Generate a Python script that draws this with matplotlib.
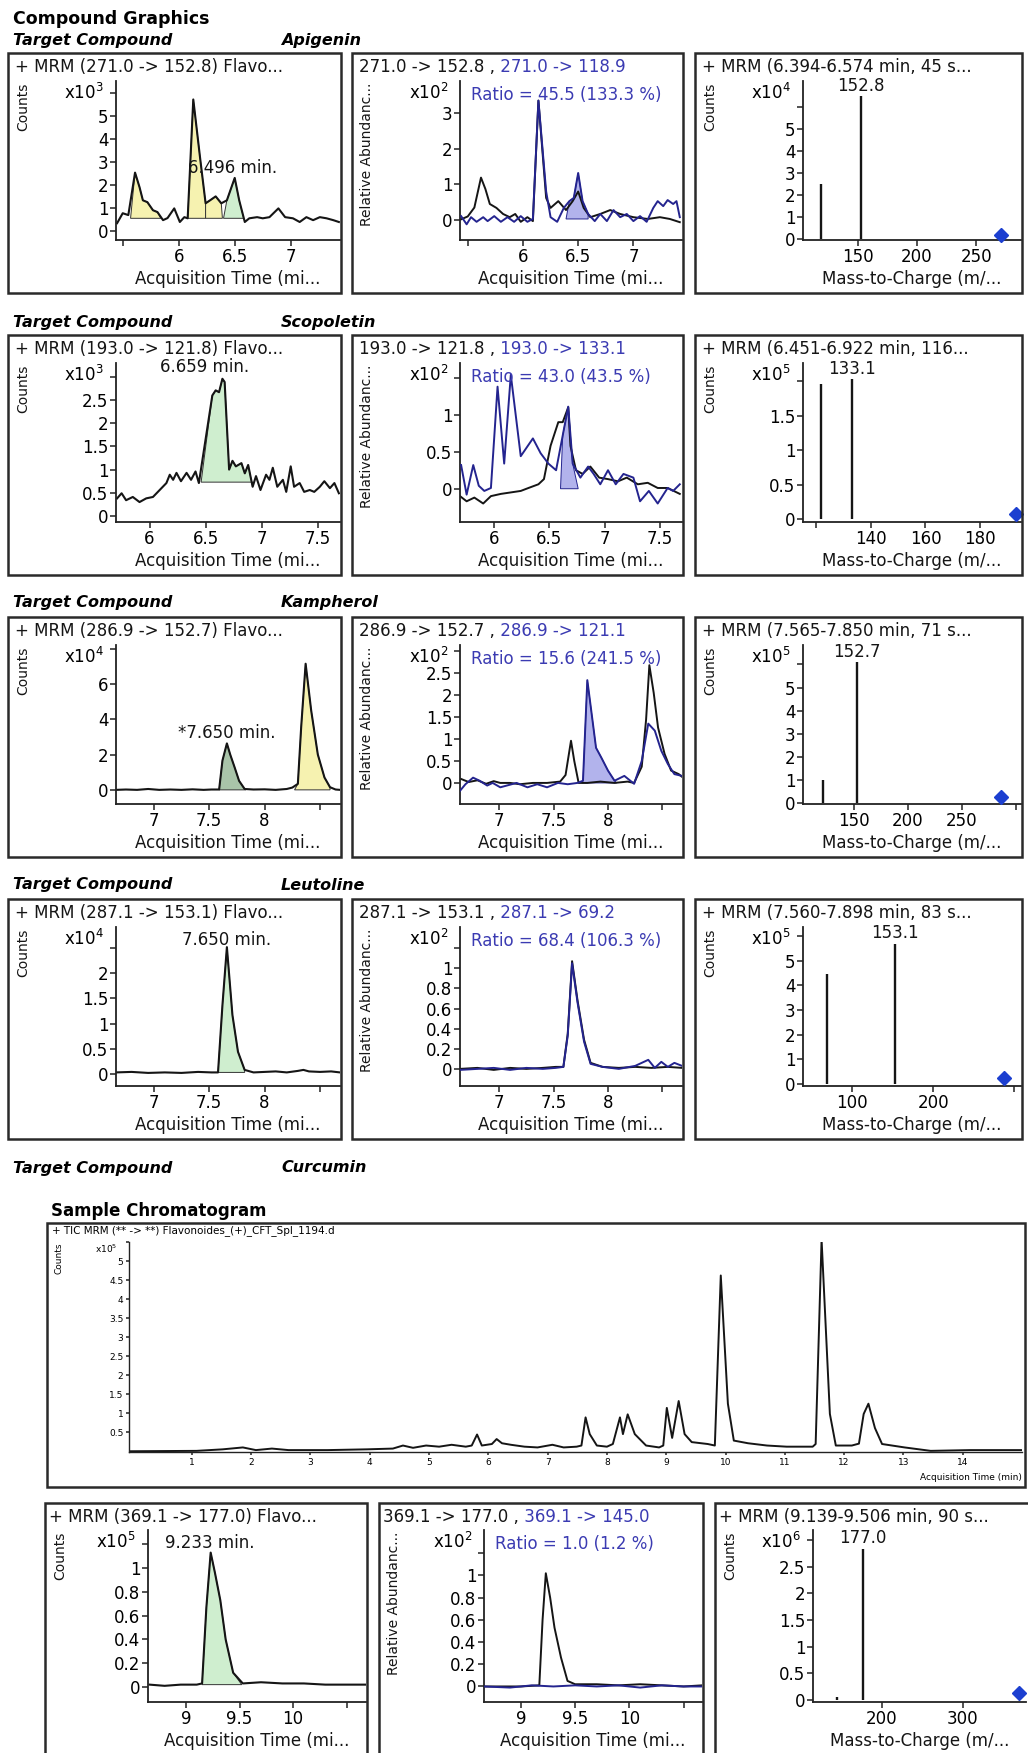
import matplotlib
matplotlib.use("Agg")
import matplotlib.pyplot as plt
from matplotlib.patches import Rectangle
from matplotlib.transforms import offset_copy
import numpy as np

# ---------------- data ----------------
NAMES = ["Apigenin", "Scopoletin", "Kampherol", "Leutoline", "Curcumin"]

# Apigenin
API_XIC_T = [5.45, 5.50, 5.55, 5.61, 5.65, 5.68, 5.72, 5.77, 5.81, 5.86, 5.90, 5.96, 6.01, 6.05, 6.08, 6.13, 6.19,
             6.24, 6.28, 6.33, 6.38, 6.43, 6.50, 6.54, 6.59, 6.63, 6.70, 6.75, 6.81, 6.89, 6.95, 7.02, 7.08, 7.14,
             7.20, 7.26, 7.32, 7.38, 7.43]
API_XIC_Y = [0.34, 0.77, 0.69, 2.53, 1.90, 1.33, 1.25, 0.90, 0.82, 0.47, 0.56, 0.98, 0.39, 0.60, 0.55, 5.70, 3.20,
             1.20, 1.33, 1.50, 1.20, 1.33, 2.30, 1.33, 0.39, 0.55, 0.60, 0.55, 0.60, 0.98, 0.60, 0.55, 0.39, 0.60,
             0.47, 0.60, 0.55, 0.47, 0.39]
API_QNT_T = [5.44, 5.50, 5.56, 5.62, 5.66, 5.70, 5.76, 5.82, 5.88, 5.93, 5.98, 6.04, 6.09, 6.14, 6.21, 6.25, 6.32,
             6.39, 6.45, 6.50, 6.55, 6.61, 6.70, 6.79, 6.88, 7.00, 7.13, 7.24, 7.33, 7.42]
API_QNT_Y = [0.02, 0.10, 0.35, 1.19, 0.87, 0.45, 0.34, 0.17, 0.08, 0.17, -0.05, 0.08, -0.03, 3.35, 0.62, 0.34, 0.53,
             0.28, 0.53, 0.80, 0.34, 0.08, 0.17, 0.28, 0.17, 0.08, 0.03, 0.08, 0.03, -0.06]
API_QUL_T = [5.44, 5.49, 5.53, 5.58, 5.64, 5.68, 5.74, 5.80, 5.86, 5.92, 5.98, 6.04, 6.09, 6.14, 6.21, 6.25, 6.31,
             6.37, 6.42, 6.46, 6.50, 6.54, 6.59, 6.65, 6.70, 6.76, 6.82, 6.88, 6.94, 7.00, 7.06, 7.12, 7.18, 7.22,
             7.27, 7.31, 7.36, 7.39, 7.42]
API_QUL_Y = [0.11, -0.12, 0.08, -0.05, 0.08, -0.03, 0.11, -0.05, 0.08, -0.05, 0.11, -0.05, 0.03, 3.35, 0.80, 0.08,
             -0.05, 0.34, 0.53, 0.62, 1.32, 0.53, 0.17, -0.03, 0.17, -0.03, 0.28, 0.08, 0.17, -0.03, 0.11, -0.05,
             0.34, 0.53, 0.39, 0.56, 0.45, 0.53, 0.08]
API_MZ = [119.0, 152.8]
API_MS = [2.5, 6.5]
API_PREC = [271.0]

# Scopoletin
SCO_XIC_T = [5.71, 5.75, 5.79, 5.85, 5.91, 5.97, 6.03, 6.09, 6.15, 6.18, 6.21, 6.24, 6.28, 6.33, 6.37, 6.41, 6.44,
             6.56, 6.59, 6.62, 6.65, 6.67, 6.71, 6.74, 6.77, 6.82, 6.85, 6.88, 6.92, 6.95, 6.99, 7.04, 7.07, 7.10,
             7.14, 7.19, 7.22, 7.26, 7.29, 7.34, 7.38, 7.43, 7.47, 7.52, 7.56, 7.61, 7.65, 7.69]
SCO_XIC_Y = [0.38, 0.49, 0.34, 0.41, 0.30, 0.38, 0.41, 0.56, 0.71, 0.89, 0.78, 0.93, 0.75, 0.93, 0.78, 0.96, 0.71,
             2.60, 2.71, 2.67, 2.96, 2.89, 1.00, 1.19, 1.07, 1.14, 0.92, 1.10, 0.63, 0.86, 0.56, 0.89, 0.78, 1.04,
             0.63, 0.78, 0.52, 1.07, 0.63, 0.71, 0.52, 0.56, 0.52, 0.63, 0.75, 0.60, 0.71, 0.49]
SCO_QNT_T = [5.69, 5.75, 5.82, 5.90, 5.97, 6.06, 6.15, 6.24, 6.31, 6.40, 6.45, 6.51, 6.58, 6.62, 6.67, 6.69, 6.74,
             6.80, 6.87, 6.95, 7.03, 7.12, 7.20, 7.30, 7.39, 7.48, 7.57, 7.68]
SCO_QNT_Y = [-0.10, -0.17, -0.12, -0.20, -0.10, -0.07, -0.05, -0.03, 0.01, 0.06, 0.13, 0.58, 0.90, 0.90, 1.10, 0.58,
             0.25, 0.20, 0.30, 0.15, 0.13, 0.10, 0.15, 0.06, 0.08, 0.01, 0.01, -0.07]
SCO_QUL_T = [5.70, 5.75, 5.81, 5.86, 5.91, 5.97, 6.03, 6.09, 6.15, 6.24, 6.35, 6.42, 6.49, 6.56, 6.62, 6.67, 6.71,
             6.78, 6.85, 6.90, 6.96, 7.03, 7.10, 7.17, 7.26, 7.32, 7.40, 7.48, 7.57, 7.62, 7.68]
SCO_QUL_Y = [0.32, -0.08, 0.32, 0.04, -0.03, 0.01, 1.38, 0.34, 1.54, 0.44, 0.68, 0.48, 0.34, 0.25, 0.72, 1.11, 0.34,
             0.15, 0.30, 0.20, 0.06, 0.25, 0.06, 0.20, 0.15, -0.17, -0.03, -0.20, 0.01, -0.03, 0.06]
SCO_MZ = [121.8, 133.1]
SCO_MS = [1.96, 2.03]
SCO_PREC = [193.0]

# Kampherol
KAM_XIC_T = [6.66, 6.75, 6.85, 6.95, 7.05, 7.15, 7.25, 7.35, 7.45, 7.52, 7.59, 7.62, 7.66, 7.69, 7.73, 7.77, 7.82,
             7.90, 8.00, 8.10, 8.20, 8.25, 8.30, 8.33, 8.37, 8.42, 8.48, 8.54, 8.59, 8.64, 8.68]
KAM_XIC_Y = [0.00, 0.02, 0.00, 0.05, 0.00, 0.02, 0.00, 0.03, 0.00, 0.02, 0.02, 1.66, 2.63, 2.00, 1.27, 0.51, 0.05,
             0.02, 0.03, 0.00, 0.05, 0.13, 0.34, 3.56, 7.14, 4.50, 2.00, 0.70, 0.15, 0.02, 0.00]
KAM_QNT_T = [6.65, 6.72, 6.80, 6.88, 6.95, 7.01, 7.10, 7.19, 7.31, 7.44, 7.56, 7.61, 7.66, 7.69, 7.73, 7.81, 7.93,
             8.06, 8.18, 8.24, 8.31, 8.35, 8.38, 8.42, 8.46, 8.52, 8.58, 8.65, 8.69]
KAM_QNT_Y = [0.09, 0.02, 0.06, -0.02, 0.04, 0.00, 0.00, -0.03, 0.00, 0.00, 0.03, 0.18, 0.96, 0.50, 0.00, 0.00, 0.03,
             0.00, 0.03, 0.00, 0.37, 1.44, 2.68, 2.05, 1.26, 0.66, 0.28, 0.20, 0.12]
KAM_QUL_T = [6.64, 6.69, 6.76, 6.82, 6.89, 6.94, 7.01, 7.07, 7.16, 7.26, 7.35, 7.44, 7.54, 7.63, 7.72, 7.77, 7.81,
             7.89, 7.94, 8.00, 8.06, 8.15, 8.24, 8.31, 8.37, 8.43, 8.49, 8.55, 8.61, 8.68]
KAM_QUL_Y = [-0.18, -0.03, 0.12, 0.05, -0.06, 0.00, -0.10, -0.06, 0.00, -0.10, -0.03, -0.10, 0.00, -0.03, 0.00,
             0.05, 2.34, 0.80, 0.57, 0.28, 0.05, 0.16, -0.02, 0.50, 1.35, 1.19, 0.73, 0.43, 0.20, 0.16]
KAM_MZ = [121.1, 152.7]
KAM_MS = [0.98, 6.1]
KAM_PREC = [286.9]

# Leutoline
LEU_XIC_T = [6.66, 6.80, 6.95, 7.10, 7.25, 7.40, 7.52, 7.58, 7.62, 7.66, 7.71, 7.76, 7.82, 7.90, 8.00, 8.10, 8.20,
             8.30, 8.35, 8.40, 8.50, 8.60, 8.68]
LEU_XIC_Y = [0.03, 0.04, 0.02, 0.03, 0.02, 0.04, 0.03, 0.03, 1.37, 2.52, 1.17, 0.44, 0.08, 0.03, 0.04, 0.05, 0.03,
             0.06, 0.08, 0.05, 0.04, 0.05, 0.03]
LEU_QNT_T = [6.64, 6.80, 6.95, 7.10, 7.25, 7.40, 7.52, 7.59, 7.63, 7.67, 7.72, 7.78, 7.84, 7.95, 8.10, 8.25, 8.40,
             8.55, 8.68]
LEU_QNT_Y = [0.00, 0.01, -0.01, 0.01, 0.00, 0.01, 0.02, 0.02, 0.35, 1.07, 0.68, 0.29, 0.06, 0.02, 0.01, 0.02, 0.01,
             0.02, 0.01]
LEU_QUL_T = [6.64, 6.80, 6.95, 7.10, 7.25, 7.40, 7.52, 7.59, 7.63, 7.67, 7.72, 7.78, 7.84, 7.95, 8.10, 8.25, 8.37,
             8.43, 8.49, 8.55, 8.61, 8.68]
LEU_QUL_Y = [-0.01, 0.00, 0.01, -0.01, 0.01, 0.00, 0.01, 0.02, 0.33, 1.05, 0.66, 0.27, 0.05, 0.02, 0.00, 0.03, 0.09,
             0.01, 0.07, 0.02, 0.06, 0.03]
LEU_MZ = [69.2, 153.1]
LEU_MS = [4.44, 5.68]
LEU_PREC = [287.1]

# Curcumin
CUR_XIC_T = [8.66, 8.80, 8.95, 9.10, 9.15, 9.19, 9.23, 9.27, 9.32, 9.37, 9.44, 9.53, 9.70, 9.90, 10.10, 10.30,
             10.50, 10.68]
CUR_XIC_Y = [0.02, 0.01, 0.02, 0.02, 0.03, 0.67, 1.13, 0.96, 0.73, 0.40, 0.12, 0.03, 0.04, 0.03, 0.03, 0.02, 0.02,
             0.02]
CUR_QNT_T = [8.66, 8.80, 9.00, 9.17, 9.20, 9.23, 9.27, 9.31, 9.37, 9.43, 9.50, 9.70, 9.90, 10.10, 10.30, 10.50,
             10.67]
CUR_QNT_Y = [0.00, 0.00, 0.00, 0.01, 0.60, 1.02, 0.80, 0.53, 0.26, 0.05, 0.02, 0.02, 0.01, 0.02, 0.01, 0.00, 0.01]
CUR_QUL_T = [8.66, 8.90, 9.10, 9.30, 9.50, 9.70, 9.90, 10.10, 10.30, 10.50, 10.67]
CUR_QUL_Y = [0.00, -0.01, 0.01, 0.00, 0.01, 0.00, 0.01, -0.01, 0.01, 0.00, 0.00]
CUR_MZ = [145.0, 177.0]
CUR_MS = [0.06, 2.84]
CUR_PREC = [369.1]

# total ion chromatogram (x10^5 counts)
TIC_T = [-0.03, 1.08, 1.52, 1.86, 2.08, 2.35, 2.63, 3.29, 3.95, 4.39, 4.56, 4.73, 4.95, 5.17, 5.38, 5.62, 5.72,
         5.81, 5.89, 6.06, 6.14, 6.23, 6.38, 6.61, 6.83, 7.08, 7.27, 7.49, 7.57, 7.64, 7.71, 7.83, 8.00, 8.10, 8.22,
         8.27, 8.35, 8.47, 8.66, 8.88, 8.95, 9.01, 9.10, 9.21, 9.31, 9.43, 9.70, 9.82, 9.92, 10.04, 10.14, 10.38,
         10.70, 11.03, 11.47, 11.52, 11.62, 11.76, 11.86, 12.13, 12.25, 12.33, 12.41, 12.52, 12.64, 13.02, 13.46,
         14.12, 15.00]
TIC_Y = [0.00, 0.01, 0.05, 0.10, 0.03, 0.07, 0.03, 0.03, 0.05, 0.07, 0.15, 0.09, 0.15, 0.12, 0.17, 0.12, 0.15,
         0.44, 0.15, 0.19, 0.32, 0.21, 0.17, 0.12, 0.10, 0.17, 0.10, 0.12, 0.15, 0.89, 0.45, 0.15, 0.12, 0.19, 0.89,
         0.45, 0.97, 0.45, 0.15, 0.10, 0.15, 1.14, 0.35, 1.32, 0.45, 0.24, 0.19, 0.15, 4.62, 1.25, 0.28, 0.21,
         0.15, 0.12, 0.12, 0.19, 5.56, 0.98, 0.15, 0.15, 0.20, 0.98, 1.25, 0.61, 0.19, 0.10, 0.01, 0.03, 0.03]

# ---------------- look ----------------
W, H = 1028, 1753
INK, BOXC = "#151515", "#2a2a2a"
NAVY, BLUE_TXT, BLUE_FILL, DIAMOND = "#24248f", "#3b3bb2", "#b2b3ec", "#1c3fd0"
YELLOW, GREEN, SAGE = "#f6f2b0", "#cfeecf", "#a9c4a9"
FS, FS_V = 12, 10

plt.rcParams["font.family"] = ["DejaVu Sans"]
fig = plt.figure(figsize=(W / 100, H / 100), dpi=100)


def fx(x):
    return x / W


def fy(y):
    return 1 - y / H


def ftext(x, y, s, **kw):
    return fig.text(fx(x), fy(y), s, **kw)


def box(x0, y0, x1, y1):
    fig.add_artist(Rectangle((fx(x0), fy(y1)), (x1 - x0) / W, (y1 - y0) / H, transform=fig.transFigure,
                             fill=False, lw=1.8, ec=BOXC))


def pxoff(ax, dx, dy):
    return offset_copy(ax.transAxes, fig=fig, x=dx, y=-dy, units="dots")


def axes_px(x0, y0, x1, y1):
    ax = fig.add_axes([fx(x0), fy(y1), (x1 - x0) / W, (y1 - y0) / H])
    ax.patch.set_alpha(0)
    ax.spines[["top", "right"]].set_visible(False)
    ax.spines[["left", "bottom"]].set_linewidth(1.3)
    ax.spines[["left", "bottom"]].set_color("#222222")
    return ax


def scales(ax, xlim, xt, xl, ylim, yt, yl, fs=FS, length=4):
    ax.set_xlim(xlim)
    ax.set_ylim(ylim)
    ax.set_xticks(xt, xl)
    ax.set_yticks(yt, yl)
    ax.tick_params(direction="out", length=length, width=1.1, labelsize=fs, pad=1.5, color="#222222")


def frame(bx0, by0, bx1, by1, ar, header, ylabel, xlabel, exp, hx=7):
    box(bx0, by0, bx1, by1)
    ax = axes_px(*ar)
    h = ftext(bx0 + hx, by0 + 14, header, ha="left", va="center", fontsize=FS, color=INK)
    ftext(bx0 + 15, ar[1] + 2, ylabel, rotation=90, ha="center", va="top", fontsize=FS_V, color=INK)
    ftext((ar[0] + ar[2]) / 2, ar[3] + 39, xlabel, ha="center", va="center", fontsize=FS, color=INK)
    ax.text(0, 1, "x10$^{%d}$" % exp, transform=pxoff(ax, -12, 2), ha="right", va="top", fontsize=FS)
    return ax, h


def peak_fill(ax, t, y, t0, t1, base, color, ec="#333333"):
    t, y = np.asarray(t), np.asarray(y)
    m = (t >= t0) & (t <= t1)
    ax.fill(np.r_[t0, t[m], t1], np.r_[base, y[m], base], facecolor=color, edgecolor=ec, lw=0.7, zorder=1)


def xic(ax, t, y, fills, label, lx, ly):
    for t0, t1, base, c in fills:
        peak_fill(ax, t, y, t0, t1, base, c)
    ax.plot(t, y, color=INK, lw=1.5, zorder=2)
    ax.text(lx, ly, label, ha="center", va="center", fontsize=FS, color=INK)


def spectrum(ax, mz, ms, prec, prec_y):
    ax.vlines(mz, 0, ms, color=INK, lw=1.7)
    top = int(np.argmax(ms))
    ax.annotate(f"{mz[top]:.1f}", (mz[top], ms[top]), xytext=(0, 1), textcoords="offset points",
                ha="center", va="bottom", fontsize=FS, color=INK)
    ax.plot(prec, [prec_y], marker="D", ms=7.5, color=DIAMOND, clip_on=False, zorder=4)


# ---------------- titles ----------------
ftext(13, 19, "Compound Graphics", fontsize=12.5, fontweight="bold", va="center")
TC_Y = [41, 322, 603, 885, 1168]
for name, ty in zip(NAMES, TC_Y):
    ftext(13, ty, "Target Compound", fontsize=11.5, fontweight="bold", style="italic", va="center")
    ftext(281, ty, name, fontsize=11.5, fontweight="bold", style="italic", va="center")

# ---------------- rows 1-4 ----------------
COLS = [(8, 341), (352, 683), (695, 1022)]
TOPS = [53, 335, 617, 899]
XT_LBL = "Acquisition Time (mi..."
MZ_LBL = "Mass-to-Charge (m/..."

rows = [
    dict(hdr="+ MRM (271.0 -> 152.8) Flavo...", rhdr=("271.0 -> 152.8 ,", " 271.0 -> 118.9"),
         rtxt="Ratio = 45.5 (133.3 %)", shdr="+ MRM (6.394-6.574 min, 45 s...", exps=(3, 2, 4),
         xic=(API_XIC_T, API_XIC_Y), fills=[(5.57, 5.84, 0.55, YELLOW), (6.08, 6.24, 0.55, YELLOW),
                                          (6.24, 6.39, 0.55, YELLOW), (6.40, 6.58, 0.55, GREEN)],
         lbl=("6.496 min.", 6.48, 2.75),
         xl1=((5.44, 7.44), [5.5, 6, 6.5, 7], ["", "6", "6.5", "7"]),
         yl1=((-0.39, 6.5), [0, 1, 2, 3, 4, 5, 6], ["0", "1", "2", "3", "4", "5", ""]),
         q=(API_QNT_T, API_QNT_Y, API_QUL_T, API_QUL_Y), qfill=(6.39, 6.59, 0.03),
         xl2=((5.43, 7.44), [5.5, 6, 6.5, 7], ["", "6", "6.5", "7"]),
         yl2=((-0.56, 3.9), [0, 1, 2, 3], ["0", "1", "2", "3"]),
         ms=(API_MZ, API_MS, API_PREC, 0.2),
         xl3=((104, 287.5), [150, 200, 250], ["150", "200", "250"]),
         yl3=((-0.05, 7.2), [0, 1, 2, 3, 4, 5, 6], ["0", "1", "2", "3", "4", "5", ""])),
    dict(hdr="+ MRM (193.0 -> 121.8) Flavo...", rhdr=("193.0 -> 121.8 ,", " 193.0 -> 133.1"),
         rtxt="Ratio = 43.0 (43.5 %)", shdr="+ MRM (6.451-6.922 min, 116...", exps=(3, 2, 5),
         xic=(SCO_XIC_T, SCO_XIC_Y), fills=[(6.46, 6.92, 0.73, GREEN)],
         lbl=("6.659 min.", 6.49, 3.22),
         xl1=((5.7, 7.7), [6, 6.5, 7, 7.5], ["6", "6.5", "7", "7.5"]),
         yl1=((-0.13, 3.3), [0, 0.5, 1, 1.5, 2, 2.5, 3], ["0", "0.5", "1", "1.5", "2", "2.5", ""]),
         q=(SCO_QNT_T, SCO_QNT_Y, SCO_QUL_T, SCO_QUL_Y), qfill=(6.60, 6.76, 0.0),
         xl2=((5.69, 7.7), [6, 6.5, 7, 7.5], ["6", "6.5", "7", "7.5"]),
         yl2=((-0.45, 1.7), [0, 0.5, 1, 1.5], ["0", "0.5", "1", ""]),
         ms=(SCO_MZ, SCO_MS, SCO_PREC, 0.07),
         xl3=((115.4, 194.8), [120, 140, 160, 180], ["", "140", "160", "180"]),
         yl3=((-0.04, 2.26), [0, 0.5, 1, 1.5, 2], ["0", "0.5", "1", "1.5", ""])),
    dict(hdr="+ MRM (286.9 -> 152.7) Flavo...", rhdr=("286.9 -> 152.7 ,", " 286.9 -> 121.1"),
         rtxt="Ratio = 15.6 (241.5 %)", shdr="+ MRM (7.565-7.850 min, 71 s...", exps=(4, 2, 5),
         xic=(KAM_XIC_T, KAM_XIC_Y), fills=[(7.59, 7.83, 0.0, SAGE), (8.27, 8.59, 0.0, YELLOW)],
         lbl=("*7.650 min.", 7.66, 3.2),
         xl1=((6.66, 8.68), [7, 7.5, 8, 8.5], ["7", "7.5", "8", ""]),
         yl1=((-0.8, 8.2), [0, 2, 4, 6, 8], ["0", "2", "4", "6", ""]),
         q=(KAM_QNT_T, KAM_QNT_Y, KAM_QUL_T, KAM_QUL_Y), qfill=(7.76, 8.08, 0.0),
         xl2=((6.64, 8.68), [7, 7.5, 8, 8.5], ["7", "7.5", "8", ""]),
         yl2=((-0.48, 3.14), [0, 0.5, 1, 1.5, 2, 2.5, 3], ["0", "0.5", "1", "1.5", "2", "2.5", ""]),
         ms=(KAM_MZ, KAM_MS, KAM_PREC, 0.26),
         xl3=((103, 305), [150, 200, 250, 300], ["150", "200", "250", ""]),
         yl3=((-0.04, 6.84), [0, 1, 2, 3, 4, 5, 6], ["0", "1", "2", "3", "4", "5", ""])),
    dict(hdr="+ MRM (287.1 -> 153.1) Flavo...", rhdr=("287.1 -> 153.1 ,", " 287.1 -> 69.2"),
         rtxt="Ratio = 68.4 (106.3 %)", shdr="+ MRM (7.560-7.898 min, 83 s...", exps=(4, 2, 5),
         xic=(LEU_XIC_T, LEU_XIC_Y), fills=[(7.58, 7.82, 0.03, GREEN)],
         lbl=("7.650 min.", 7.66, 2.67),
         xl1=((6.66, 8.68), [7, 7.5, 8, 8.5], ["7", "7.5", "8", ""]),
         yl1=((-0.24, 2.92), [0, 0.5, 1, 1.5, 2, 2.5], ["0", "0.5", "1", "1.5", "2", ""]),
         q=(LEU_QNT_T, LEU_QNT_Y, LEU_QUL_T, LEU_QUL_Y), qfill=None,
         xl2=((6.64, 8.68), [7, 7.5, 8, 8.5], ["7", "7.5", "8", ""]),
         yl2=((-0.17, 1.41), [0, 0.2, 0.4, 0.6, 0.8, 1.0, 1.2], ["0", "0.2", "0.4", "0.6", "0.8", "1", ""]),
         ms=(LEU_MZ, LEU_MS, LEU_PREC, 0.24),
         xl3=((40, 308), [100, 200, 300], ["100", "200", ""]),
         yl3=((-0.08, 6.36), [0, 1, 2, 3, 4, 5, 6], ["0", "1", "2", "3", "4", "5", ""])),
]


def draw_row(r, boxes, axrects, hx=7):
    (b1, b2, b3), (a1, a2, a3) = boxes, axrects
    e1, e2, e3 = r["exps"]
    ax, _ = frame(*b1, a1, r["hdr"], "Counts", XT_LBL, e1, hx)
    scales(ax, *r["xl1"], *r["yl1"])
    xic(ax, *r["xic"], r["fills"], *r["lbl"])

    ax, h = frame(*b2, a2, r["rhdr"][0], "Relative Abundanc...", XT_LBL, e2, hx)
    scales(ax, *r["xl2"], *r["yl2"])
    tq, yq, tl, yl = r["q"]
    ax.annotate(r["rhdr"][1], xy=(1, 0), xycoords=h, va="bottom", ha="left", fontsize=FS, color=BLUE_TXT)
    if r["qfill"] is not None:
        peak_fill(ax, tl, yl, *r["qfill"], BLUE_FILL, ec=NAVY)
    ax.plot(tq, yq, color=INK, lw=1.4, zorder=2)
    ax.plot(tl, yl, color=NAVY, lw=1.4, zorder=3)
    ax.text(0, 1, r["rtxt"], transform=pxoff(ax, 11, 5), ha="left", va="top", fontsize=FS,
            color=BLUE_TXT, clip_on=True)

    ax, _ = frame(*b3, a3, r["shdr"], "Counts", MZ_LBL, e3, hx)
    scales(ax, *r["xl3"], *r["yl3"])
    spectrum(ax, *r["ms"])


for r, top in zip(rows, TOPS):
    bxs = [(x0, top, x1, top + 240) for x0, x1 in COLS]
    ars = [(x0 + 108, top + 28, x1 - 1, top + 187) for x0, x1 in COLS]
    draw_row(r, bxs, ars)

# ---------------- sample chromatogram ----------------
ftext(51, 1211, "Sample Chromatogram", fontsize=12, fontweight="bold", va="center")
box(47, 1223, 1025, 1487)
ax = axes_px(129, 1242, 1022, 1452)
scales(ax, (-0.06, 15.0), list(range(1, 15)), [str(i) for i in range(1, 15)], (-0.02, 5.5),
       [0.5, 1, 1.5, 2, 2.5, 3, 3.5, 4, 4.5, 5, 5.5],
       ["0.5", "1", "1.5", "2", "2.5", "3", "3.5", "4", "4.5", "5", ""], fs=6.5, length=2.5)
ax.spines[["left", "bottom"]].set_linewidth(1.0)
ax.plot(TIC_T, TIC_Y, color=INK, lw=1.4)
ftext(52, 1231, "+ TIC MRM (** -> **) Flavonoides_(+)_CFT_Spl_1194.d", fontsize=7.5, va="center")
ftext(59, 1242, "Counts", rotation=90, ha="center", va="top", fontsize=6.5)
ax.text(0, 1, "x10$^{5}$", transform=pxoff(ax, -12, 1), ha="right", va="top", fontsize=6.5)
ftext(1022, 1477, "Acquisition Time (min)", ha="right", va="center", fontsize=6.5)

# ---------------- curcumin row ----------------
cur = dict(hdr="+ MRM (369.1 -> 177.0) Flavo...", rhdr=("369.1 -> 177.0 ,", " 369.1 -> 145.0"),
           rtxt="Ratio = 1.0 (1.2 %)", shdr="+ MRM (9.139-9.506 min, 90 s...", exps=(5, 2, 6),
           xic=(CUR_XIC_T, CUR_XIC_Y), fills=[(9.15, 9.52, 0.02, GREEN)],
           lbl=("9.233 min.", 9.22, 1.21),
           xl1=((8.645, 10.68), [9, 9.5, 10, 10.5], ["9", "9.5", "10", ""]),
           yl1=((-0.126, 1.32), [0, 0.2, 0.4, 0.6, 0.8, 1.0, 1.2], ["0", "0.2", "0.4", "0.6", "0.8", "1", ""]),
           q=(CUR_QNT_T, CUR_QNT_Y, CUR_QUL_T, CUR_QUL_Y), qfill=None,
           xl2=((8.66, 10.67), [9, 9.5, 10, 10.5], ["9", "9.5", "10", ""]),
           yl2=((-0.14, 1.41), [0, 0.2, 0.4, 0.6, 0.8, 1.0, 1.2], ["0", "0.2", "0.4", "0.6", "0.8", "1", ""]),
           ms=(CUR_MZ, CUR_MS, CUR_PREC, 0.13),
           xl3=((115, 378), [200, 300], ["200", "300"]),
           yl3=((-0.04, 3.19), [0, 0.5, 1, 1.5, 2, 2.5, 3], ["0", "0.5", "1", "1.5", "2", "2.5", ""]))
draw_row(cur, [(45, 1503, 367, 1770), (379, 1503, 703, 1770), (715, 1503, 1040, 1770)],
         [(148, 1530, 366, 1702), (484, 1530, 702, 1702), (813, 1530, 1026, 1702)], hx=4)

fig.savefig("out.png", dpi=100, facecolor="white")
